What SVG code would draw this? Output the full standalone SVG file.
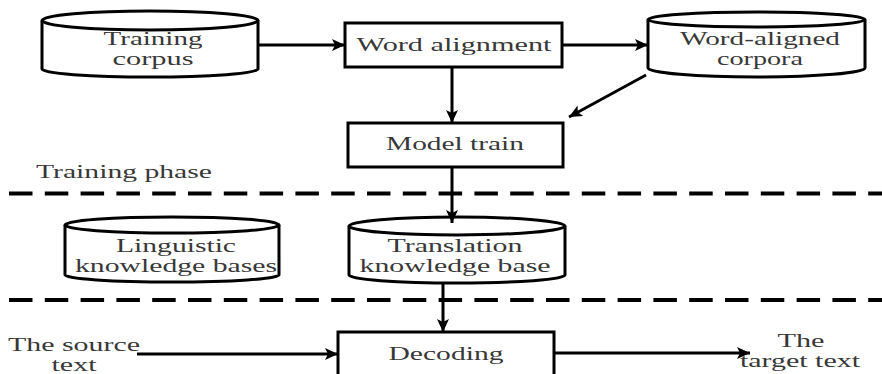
<svg xmlns="http://www.w3.org/2000/svg" width="882" height="374" viewBox="0 0 882 374">
<defs>
<marker id="ah" markerUnits="userSpaceOnUse" markerWidth="14" markerHeight="14" viewBox="0 0 14 14" refX="13" refY="7" orient="auto">
<path d="M0,1 L13,7 L0,13 L3,7 z" fill="#000"/>
</marker>
<style>
.t{font-family:'Liberation Serif',serif;font-size:19px;fill:#383838;text-anchor:middle}
.s{fill:#fff;stroke:#000;stroke-width:3}
.a{fill:none;stroke:#000;stroke-width:3;marker-end:url(#ah)}
.d{fill:none;stroke:#000;stroke-width:4;stroke-dasharray:23.5 12.3}
</style>
</defs>
<g id="dividers">
<line class="d" x1="9" y1="193.5" x2="882" y2="193.5"/>
<line class="d" x1="9" y1="300" x2="882" y2="300"/>
</g>
<text class="t" x="124" y="178" textLength="176" lengthAdjust="spacingAndGlyphs">Training phase</text>
<g id="training-corpus">
<path class="s" d="M42,20.5 L42,69 A108,8 0 0 0 258,69 L258,20.5"/>
<ellipse class="s" cx="150" cy="20.5" rx="108" ry="9.5"/>
<text class="t" x="153" y="45" textLength="99" lengthAdjust="spacingAndGlyphs">Training</text>
<text class="t" x="153" y="64.5" textLength="81" lengthAdjust="spacingAndGlyphs">corpus</text>
</g>
<g id="word-alignment">
<rect class="s" x="345" y="23" width="217" height="44"/>
<text class="t" x="454" y="51" textLength="195" lengthAdjust="spacingAndGlyphs">Word alignment</text>
</g>
<g id="word-aligned-corpora">
<path class="s" d="M648,19.5 L648,68 A108.5,9 0 0 0 865,68 L865,19.5"/>
<ellipse class="s" cx="756.5" cy="19.5" rx="108.5" ry="7.5"/>
<text class="t" x="760" y="45" textLength="160" lengthAdjust="spacingAndGlyphs">Word-aligned</text>
<text class="t" x="760" y="64.5" textLength="86" lengthAdjust="spacingAndGlyphs">corpora</text>
</g>
<g id="model-train">
<rect class="s" x="348" y="123" width="215" height="44"/>
<text class="t" x="455" y="150" textLength="138" lengthAdjust="spacingAndGlyphs">Model train</text>
</g>
<g id="linguistic-knowledge-bases">
<path class="s" d="M65,225 L65,275 A107,7 0 0 0 279,275 L279,225"/>
<ellipse class="s" cx="172" cy="225" rx="107" ry="8"/>
<text class="t" x="176" y="252" textLength="120" lengthAdjust="spacingAndGlyphs">Linguistic</text>
<text class="t" x="176" y="271.5" textLength="202" lengthAdjust="spacingAndGlyphs">knowledge bases</text>
</g>
<g id="translation-knowledge-base">
<path class="s" d="M349,226 L349,275 A108,8 0 0 0 565,275 L565,226"/>
<ellipse class="s" cx="457" cy="226" rx="108" ry="9"/>
<text class="t" x="455" y="252" textLength="135" lengthAdjust="spacingAndGlyphs">Translation</text>
<text class="t" x="455" y="271.5" textLength="191" lengthAdjust="spacingAndGlyphs">knowledge base</text>
</g>
<g id="decoding">
<rect class="s" x="338" y="332" width="216" height="60"/>
<text class="t" x="446" y="360" textLength="115" lengthAdjust="spacingAndGlyphs">Decoding</text>
</g>
<g id="source-text">
<text class="t" x="74" y="351" textLength="132" lengthAdjust="spacingAndGlyphs">The source</text>
<text class="t" x="74" y="371" textLength="45" lengthAdjust="spacingAndGlyphs">text</text>
</g>
<g id="target-text">
<text class="t" x="801" y="347" textLength="47" lengthAdjust="spacingAndGlyphs">The</text>
<text class="t" x="800" y="367" textLength="120" lengthAdjust="spacingAndGlyphs">target text</text>
</g>
<g id="connectors">
<line class="a" x1="258" y1="45" x2="345" y2="45"/>
<line class="a" x1="562" y1="45" x2="648" y2="45"/>
<line class="a" x1="452" y1="67" x2="452" y2="123"/>
<line class="a" x1="646" y1="75" x2="569" y2="117"/>
<line class="a" x1="452" y1="167" x2="452" y2="223"/>
<line class="a" x1="443" y1="283" x2="443" y2="332"/>
<line class="a" x1="137" y1="354" x2="338" y2="354"/>
<line class="a" x1="554" y1="353" x2="750" y2="353"/>
</g>
</svg>
